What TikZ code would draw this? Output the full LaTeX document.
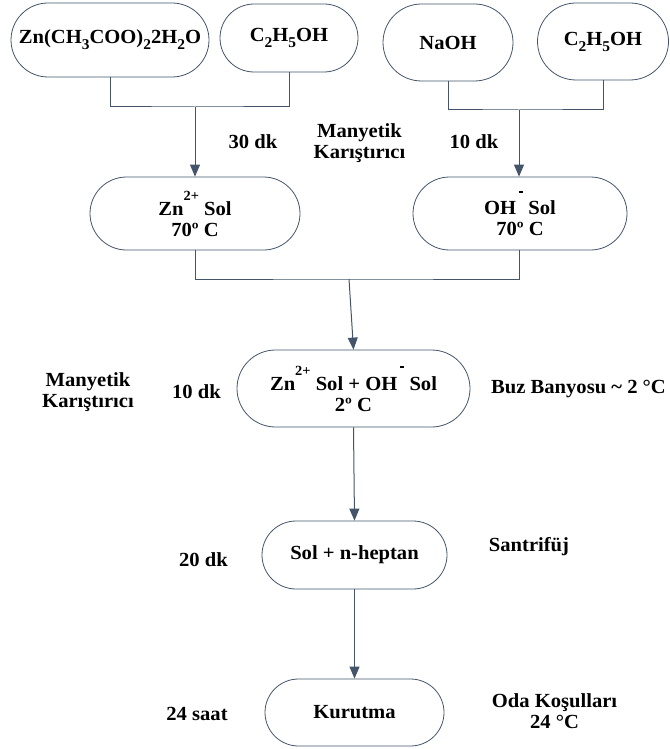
\documentclass[tikz,border=0pt]{standalone}
\usepackage{fontspec}
\setmainfont{Liberation Serif}[FakeStretch=1.03]
\usetikzlibrary{arrows.meta,shapes.misc}
\definecolor{ln}{HTML}{44546A}
\newcommand{\sbs}[1]{\raisebox{-6pt}{\fontsize{15}{15}\selectfont #1}}
\newcommand{\sps}[1]{\raisebox{15pt}{\fontsize{14}{14}\selectfont #1}}
\newcommand{\minus}{\hspace{2.5pt}\raisebox{22pt}{\rule{4.5pt}{1.8pt}}}
\begin{document}
\begin{tikzpicture}[x=1pt,y=-1pt,
  font=\fontsize{20}{21}\selectfont\bfseries,
  pill/.style={draw=ln, line width=0.8pt, rounded rectangle, inner sep=0pt, align=center},
  conn/.style={draw=ln, line width=1pt},
  arr/.style={conn, -{Triangle[length=12pt,width=10pt]}},
  lbl/.style={align=center, inner sep=0pt}]
\useasboundingbox (0,0) rectangle (669,749);

% top row
\node[pill, minimum width=198pt, minimum height=74pt] (b1) at (110,40) {Zn(CH\sbs{3}COO)\sbs{2}2H\sbs{2}O};
\node[pill, minimum width=138pt, minimum height=68pt] (b2) at (289,38) {C\sbs{2}H\sbs{5}OH};
\node[pill, minimum width=130pt, minimum height=77pt] (b3) at (448,42.5) {NaOH};
\node[pill, minimum width=131pt, minimum height=77pt] (b4) at (603,41.5) {C\sbs{2}H\sbs{5}OH};

% middle row
\node[pill, minimum width=210pt, minimum height=73pt] (zn) at (195,213.5) {Zn\sps{2+} Sol\\70º C};
\node[pill, minimum width=214pt, minimum height=73pt] (oh) at (520,213.5) {OH\minus{} Sol\\70º C};

% lower column
\node[pill, minimum width=233pt, minimum height=77pt] (mix) at (353.5,388.5) {Zn\sps{2+} Sol + OH\minus{} Sol\\2º C};
\node[pill, minimum width=185pt, minimum height=68pt] (hep) at (354.5,555) {Sol + n-heptan};
\node[pill, minimum width=179pt, minimum height=67pt] (kur) at (354.5,712.5) {Kurutma};

% junctions
\coordinate (j1) at (195,107);
\coordinate (j2) at (519,110);
\coordinate (j3) at (349,279);

\draw[conn] (b1.south) |- (j1) -| (b2.south);
\draw[arr] (j1) -- (zn.north -| j1);
\draw[conn] (b3.south) |- (j2) -| (b4.south);
\draw[arr] (j2) -- (oh.north -| j2);
\draw[conn] (zn.south) |- (j3) -| (oh.south -| j2);
\draw[arr] (j3) -- (mix.north);
\draw[arr] (mix.south) -- (hep.north);
\draw[arr] (hep.south) -- (kur.north);

% labels
\node[lbl] (l30) at (253,142) {30 dk};
\node[lbl] (lmk1) at (359.5,143) {Manyetik\\Karıştırıcı};
\node[lbl] (l10a) at (474,142) {10 dk};
\node[lbl] (lmk2) at (88,392) {Manyetik\\Karıştırıcı};
\node[lbl] (l10b) at (196.5,392) {10 dk};
\node[lbl] (lbuz) at (578.5,389) {Buz Banyosu \textasciitilde{} 2 °C};
\node[lbl] (l20) at (203.5,560) {20 dk};
\node[lbl] (lsan) at (529,547) {Santrifüj};
\node[lbl] (l24) at (197,714) {24 saat};
\node[lbl] (loda) at (554.5,711) {Oda Koşulları\\24 °C};
\end{tikzpicture}
\end{document}
